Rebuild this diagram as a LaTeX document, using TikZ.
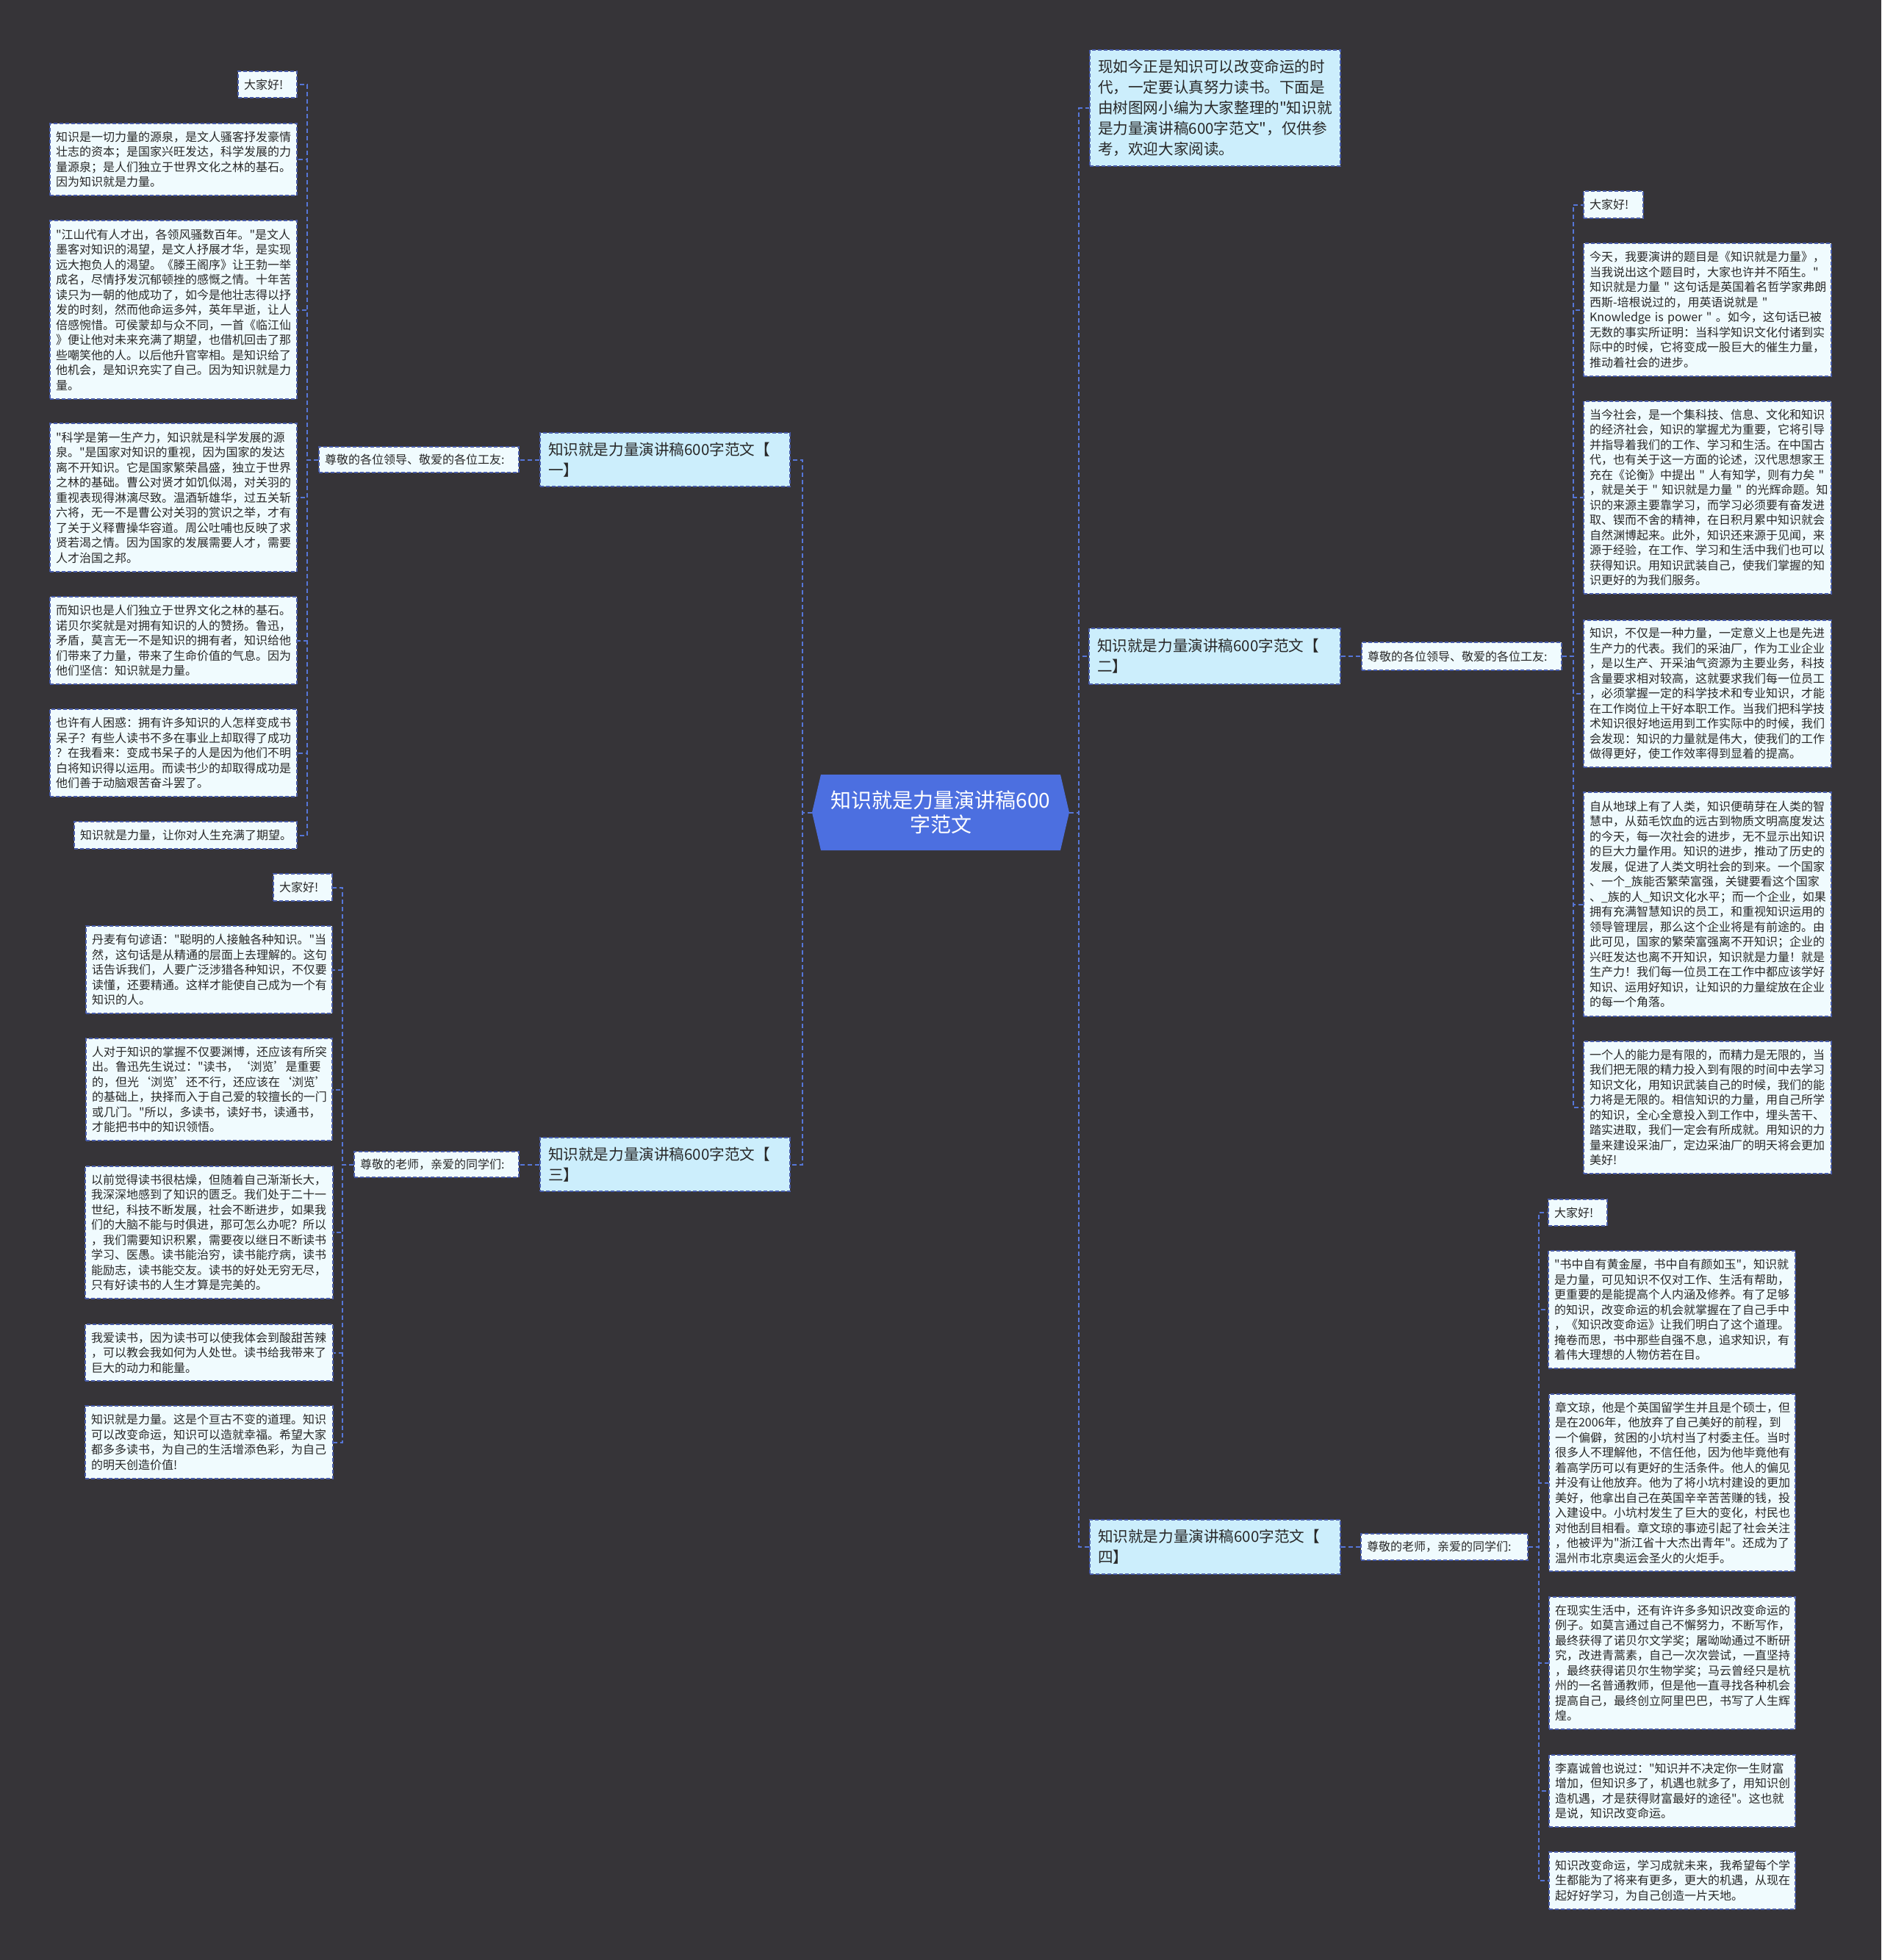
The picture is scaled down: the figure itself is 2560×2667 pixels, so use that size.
\documentclass[tikz,border=0pt]{standalone}
\usepackage{fontspec}
\newfontfamily\cjk{Noto Sans CJK SC}
\definecolor{bgc}{RGB}{54,52,56}
\definecolor{rootc}{RGB}{76,111,224}
\definecolor{branchc}{RGB}{204,238,252}
\definecolor{leafc}{RGB}{240,251,254}
\definecolor{edgec}{RGB}{86,118,216}
\definecolor{borderc}{RGB}{72,92,170}
\definecolor{txtc}{RGB}{40,40,40}
\tikzset{
  conn/.style={draw=edgec, line width=1pt, dash pattern=on 3pt off 2pt},
  boxbase/.style={draw=borderc, line width=0.7pt, dash pattern=on 2.5pt off 1.5pt, inner ysep=2pt, align=left, text=txtc, anchor=center},
  leaf/.style={boxbase, fill=leafc, font=\cjk\fontsize{8}{10.25}\selectfont},
  branch/.style={boxbase, fill=branchc, font=\cjk\fontsize{10.3}{14}\selectfont},
}
% name, style, xsep(pt), x1, y1, x2, y2, text
\newcommand\placebox[8]{%
  \pgfmathsetmacro\pbcx{(#4+#6)/2}%
  \pgfmathsetmacro\pbcy{(#5+#7)/2}%
  \pgfmathsetmacro\pbtw{(#6-#4)*0.5-2*#3}%
  \pgfmathsetmacro\pbh{(#7-#5)*0.5}%
  \node[#2, inner xsep=#3pt, text width=\pbtw pt, minimum height=\pbh pt] (#1) at (\pbcx,\pbcy) {#8};%
}
\begin{document}
\begin{tikzpicture}[x=0.5pt, y=-0.5pt]
\fill[bgc] (0,0) rectangle (2560,2667);
\useasboundingbox (0,0) rectangle (2560,2667);

% root
\fill[rootc] (1105,1105.5) -- (1117,1054) -- (1443,1054) -- (1455,1105.5) -- (1443,1157) -- (1117,1157) -- cycle;
\node[font=\cjk\fontsize{14}{16.5}\selectfont, text=white, align=center, minimum width=175pt, minimum height=51.5pt, inner sep=0pt] (root) at (1280,1105.5) {知识就是力量演讲稿600\\字范文};

% branches
\placebox{intro}{branch}{5.5}{1483}{68}{1824}{226}{现如今正是知识可以改变命运的时\\代，一定要认真努力读书。下面是\\由树图网小编为大家整理的"知识就\\是力量演讲稿600字范文"，仅供参\\考，欢迎大家阅读。}
\placebox{b1}{branch}{5.5}{735}{589}{1075}{662}{知识就是力量演讲稿600字范文【\\一】}
\placebox{b2}{branch}{5.5}{1482}{855}{1824}{931}{知识就是力量演讲稿600字范文【\\二】}
\placebox{b3}{branch}{5.5}{735}{1548}{1075}{1621}{知识就是力量演讲稿600字范文【\\三】}
\placebox{b4}{branch}{5.5}{1483}{2068}{1824}{2142}{知识就是力量演讲稿600字范文【\\四】}

% labels
\placebox{l1}{leaf}{4}{434}{608}{706}{643}{尊敬的各位领导、敬爱的各位工友:}
\placebox{l3}{leaf}{4}{482}{1567}{706}{1602}{尊敬的老师，亲爱的同学们:}
\placebox{l2}{leaf}{4}{1853}{874}{2125}{912}{尊敬的各位领导、敬爱的各位工友:}
\placebox{l4}{leaf}{4}{1852}{2087}{2079}{2123}{尊敬的老师，亲爱的同学们:}

% branch 1 leaves
\placebox{a1}{leaf}{4}{324}{97}{404}{133}{大家好!}
\placebox{a2}{leaf}{4}{68}{168}{404}{266}{知识是一切力量的源泉，是文人骚客抒发豪情\\壮志的资本；是国家兴旺发达，科学发展的力\\量源泉；是人们独立于世界文化之林的基石。\\因为知识就是力量。}
\placebox{a3}{leaf}{4}{68}{300}{404}{543}{"江山代有人才出，各领风骚数百年。"是文人\\墨客对知识的渴望，是文人抒展才华，是实现\\远大抱负人的渴望。《滕王阁序》让王勃一举\\成名，尽情抒发沉郁顿挫的感慨之情。十年苦\\读只为一朝的他成功了，如今是他壮志得以抒\\发的时刻，然而他命运多舛，英年早逝，让人\\倍感惋惜。可侯蒙却与众不同，一首《临江仙\\》便让他对未来充满了期望，也借机回击了那\\些嘲笑他的人。以后他升官宰相。是知识给了\\他机会，是知识充实了自己。因为知识就是力\\量。}
\placebox{a4}{leaf}{4}{68}{576}{404}{778}{"科学是第一生产力，知识就是科学发展的源\\泉。"是国家对知识的重视，因为国家的发达\\离不开知识。它是国家繁荣昌盛，独立于世界\\之林的基础。曹公对贤才如饥似渴，对关羽的\\重视表现得淋漓尽致。温酒斩雄华，过五关斩\\六将，无一不是曹公对关羽的赏识之举，才有\\了关于义释曹操华容道。周公吐哺也反映了求\\贤若渴之情。因为国家的发展需要人才，需要\\人才治国之邦。}
\placebox{a5}{leaf}{4}{68}{812}{404}{931}{而知识也是人们独立于世界文化之林的基石。\\诺贝尔奖就是对拥有知识的人的赞扬。鲁迅，\\矛盾，莫言无一不是知识的拥有者，知识给他\\们带来了力量，带来了生命价值的气息。因为\\他们坚信：知识就是力量。}
\placebox{a6}{leaf}{4}{68}{965}{404}{1084}{也许有人困惑：拥有许多知识的人怎样变成书\\呆子？有些人读书不多在事业上却取得了成功\\？在我看来：变成书呆子的人是因为他们不明\\白将知识得以运用。而读书少的却取得成功是\\他们善于动脑艰苦奋斗罢了。}
\placebox{a7}{leaf}{4}{101}{1118}{404}{1155}{知识就是力量，让你对人生充满了期望。}

% branch 3 leaves
\placebox{c1}{leaf}{4}{372}{1189}{452}{1226}{大家好!}
\placebox{c2}{leaf}{4}{117}{1260}{452}{1379}{丹麦有句谚语："聪明的人接触各种知识。"当\\然，这句话是从精通的层面上去理解的。这句\\话告诉我们，人要广泛涉猎各种知识，不仅要\\读懂，还要精通。这样才能使自己成为一个有\\知识的人。}
\placebox{c3}{leaf}{4}{117}{1413}{452}{1552}{人对于知识的掌握不仅要渊博，还应该有所突\\出。鲁迅先生说过："读书，‘浏览’是重要\\的，但光‘浏览’还不行，还应该在‘浏览’\\的基础上，抉择而入于自己爱的较擅长的一门\\或几门。"所以，多读书，读好书，读通书，\\才能把书中的知识领悟。}
\placebox{c4}{leaf}{4}{116}{1587}{453}{1767}{以前觉得读书很枯燥，但随着自己渐渐长大，\\我深深地感到了知识的匮乏。我们处于二十一\\世纪，科技不断发展，社会不断进步，如果我\\们的大脑不能与时俱进，那可怎么办呢？所以\\，我们需要知识积累，需要夜以继日不断读书\\学习、医愚。读书能治穷，读书能疗病，读书\\能励志，读书能交友。读书的好处无穷无尽，\\只有好读书的人生才算是完美的。}
\placebox{c5}{leaf}{4}{116}{1802}{453}{1879}{我爱读书，因为读书可以使我体会到酸甜苦辣\\，可以教会我如何为人处世。读书给我带来了\\巨大的动力和能量。}
\placebox{c6}{leaf}{4}{116}{1913}{453}{2012}{知识就是力量。这是个亘古不变的道理。知识\\可以改变命运，知识可以造就幸福。希望大家\\都多多读书，为自己的生活增添色彩，为自己\\的明天创造价值!}

% branch 2 leaves
\placebox{d1}{leaf}{4}{2155}{260}{2236}{297}{大家好!}
\placebox{d2}{leaf}{4}{2155}{331}{2492}{512}{今天，我要演讲的题目是《知识就是力量》，\\当我说出这个题目时，大家也许并不陌生。"\\知识就是力量~"~这句话是英国着名哲学家弗朗\\西斯-培根说过的，用英语说就是~"\\Knowledge~is~power~"~。如今，这句话已被\\无数的事实所证明：当科学知识文化付诸到实\\际中的时候，它将变成一股巨大的催生力量，\\推动着社会的进步。}
\placebox{d3}{leaf}{4}{2155}{546}{2492}{808}{当今社会，是一个集科技、信息、文化和知识\\的经济社会，知识的掌握尤为重要，它将引导\\并指导着我们的工作、学习和生活。在中国古\\代，也有关于这一方面的论述，汉代思想家王\\充在《论衡》中提出~"~人有知学，则有力矣~"\\，就是关于~"~知识就是力量~"~的光辉命题。知\\识的来源主要靠学习，而学习必须要有奋发进\\取、锲而不舍的精神，在日积月累中知识就会\\自然渊博起来。此外，知识还来源于见闻，来\\源于经验，在工作、学习和生活中我们也可以\\获得知识。用知识武装自己，使我们掌握的知\\识更好的为我们服务。}
\placebox{d4}{leaf}{4}{2155}{844}{2492}{1044}{知识，不仅是一种力量，一定意义上也是先进\\生产力的代表。我们的采油厂，作为工业企业\\，是以生产、开采油气资源为主要业务，科技\\含量要求相对较高，这就要求我们每一位员工\\，必须掌握一定的科学技术和专业知识，才能\\在工作岗位上干好本职工作。当我们把科学技\\术知识很好地运用到工作实际中的时候，我们\\会发现：知识的力量就是伟大，使我们的工作\\做得更好，使工作效率得到显着的提高。}
\placebox{d5}{leaf}{4}{2155}{1078}{2492}{1383}{自从地球上有了人类，知识便萌芽在人类的智\\慧中，从茹毛饮血的远古到物质文明高度发达\\的今天，每一次社会的进步，无不显示出知识\\的巨大力量作用。知识的进步，推动了历史的\\发展，促进了人类文明社会的到来。一个国家\\、一个\_族能否繁荣富强，关键要看这个国家\\、\_族的人\_知识文化水平；而一个企业，如果\\拥有充满智慧知识的员工，和重视知识运用的\\领导管理层，那么这个企业将是有前途的。由\\此可见，国家的繁荣富强离不开知识；企业的\\兴旺发达也离不开知识，知识就是力量！就是\\生产力！我们每一位员工在工作中都应该学好\\知识、运用好知识，让知识的力量绽放在企业\\的每一个角落。}
\placebox{d6}{leaf}{4}{2155}{1417}{2492}{1597}{一个人的能力是有限的，而精力是无限的，当\\我们把无限的精力投入到有限的时间中去学习\\知识文化，用知识武装自己的时候，我们的能\\力将是无限的。相信知识的力量，用自己所学\\的知识，全心全意投入到工作中，埋头苦干、\\踏实进取，我们一定会有所成就。用知识的力\\量来建设采油厂，定边采油厂的明天将会更加\\美好!}

% branch 4 leaves
\placebox{e1}{leaf}{4}{2107}{1632}{2187}{1668}{大家好!}
\placebox{e2}{leaf}{4}{2107}{1702}{2443}{1862}{"书中自有黄金屋，书中自有颜如玉"，知识就\\是力量，可见知识不仅对工作、生活有帮助，\\更重要的是能提高个人内涵及修养。有了足够\\的知识，改变命运的机会就掌握在了自己手中\\，《知识改变命运》让我们明白了这个道理。\\掩卷而思，书中那些自强不息，追求知识，有\\着伟大理想的人物仿若在目。}
\placebox{e3}{leaf}{4}{2108}{1897}{2443}{2138}{章文琼，他是个英国留学生并且是个硕士，但\\是在2006年，他放弃了自己美好的前程，到\\一个偏僻，贫困的小坑村当了村委主任。当时\\很多人不理解他，不信任他，因为他毕竟他有\\着高学历可以有更好的生活条件。他人的偏见\\并没有让他放弃。他为了将小坑村建设的更加\\美好，他拿出自己在英国辛辛苦苦赚的钱，投\\入建设中。小坑村发生了巨大的变化，村民也\\对他刮目相看。章文琼的事迹引起了社会关注\\，他被评为"浙江省十大杰出青年"。还成为了\\温州市北京奥运会圣火的火炬手。}
\placebox{e4}{leaf}{4}{2108}{2173}{2443}{2353}{在现实生活中，还有许许多多知识改变命运的\\例子。如莫言通过自己不懈努力，不断写作，\\最终获得了诺贝尔文学奖；屠呦呦通过不断研\\究，改进青蒿素，自己一次次尝试，一直坚持\\，最终获得诺贝尔生物学奖；马云曾经只是杭\\州的一名普通教师，但是他一直寻找各种机会\\提高自己，最终创立阿里巴巴，书写了人生辉\\煌。}
\placebox{e5}{leaf}{4}{2108}{2388}{2443}{2486}{李嘉诚曾也说过："知识并不决定你一生财富\\增加，但知识多了，机遇也就多了，用知识创\\造机遇，才是获得财富最好的途径"。这也就\\是说，知识改变命运。}
\placebox{e6}{leaf}{4}{2108}{2520}{2443}{2598}{知识改变命运，学习成就未来，我希望每个学\\生都能为了将来有更多，更大的机遇，从现在\\起好好学习，为自己创造一片天地。}

% connectors
\draw[conn] (root.west) -- ++(-13,0) |- (b1.east);
\draw[conn] (root.west) -- ++(-13,0) |- (b3.east);
\draw[conn] (root.east) -- ++(13,0) |- (intro.west);
\draw[conn] (root.east) -- ++(13,0) |- (b2.west);
\draw[conn] (root.east) -- ++(13,0) |- (b4.west);
\draw[conn] (b1.west) -- (l1.east);
\draw[conn] (b3.west) -- (l3.east);
\draw[conn] (b2.east) -- (l2.west);
\draw[conn] (b4.east) -- (l4.west);
\foreach \n in {a1,a2,a3,a4,a5,a6,a7} \draw[conn] (l1.west) -- ++(-15,0) |- (\n.east);
\foreach \n in {c1,c2,c3,c4,c5,c6} \draw[conn] (l3.west) -- ++(-15,0) |- (\n.east);
\foreach \n in {d1,d2,d3,d4,d5,d6} \draw[conn] (l2.east) -- ++(15,0) |- (\n.west);
\foreach \n in {e1,e2,e3,e4,e5,e6} \draw[conn] (l4.east) -- ++(14,0) |- (\n.west);
\end{tikzpicture}
\end{document}
